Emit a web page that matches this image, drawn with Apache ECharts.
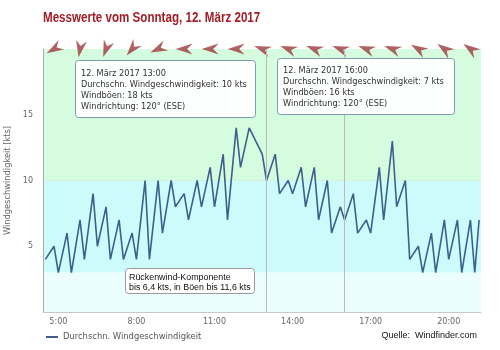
<!DOCTYPE html>
<html>
<head>
<meta charset="utf-8">
<script src="https://cdn.jsdelivr.net/npm/echarts@6/dist/echarts.min.js"></script>
<style>
  html, body { margin: 0; padding: 0; background: #fff; }
  #chart { width: 500px; height: 350px; }
</style>
</head>
<body>
<div id="chart"></div>
<script>
// Measured average wind speed (kts), local time
const times = [
  '4:30','4:50','5:00','5:20','5:30','5:50','6:00','6:20','6:30','6:50',
  '7:00','7:20','7:30','7:50','8:00','8:20','8:30','8:50','9:00','9:20',
  '9:30','9:50','10:00','10:20','10:30','10:50','11:00','11:20','11:30','11:50',
  '12:00','12:20','12:50','13:00','13:20','13:30','13:50','14:00','14:20','14:30',
  '14:50','15:00','15:20','15:30','15:50','16:00','16:20','16:30','16:50','17:00',
  '17:20','17:30','17:50','18:00','18:20','18:30','18:50','19:00','19:20','19:30',
  '19:50','20:00','20:20','20:30','20:50','21:00','21:10'
];
const speeds = [
  4, 5, 3, 6, 3, 7, 4, 9, 5, 8,
  4, 7, 4, 6, 4, 10, 4, 10, 6, 10,
  8, 9, 7, 10, 8, 11, 8, 12, 7, 14,
  11, 14, 12, 10, 12, 9, 10, 9, 11, 8,
  11, 7, 10, 6, 8, 7, 9, 6, 7, 6,
  11, 7, 13, 8, 10, 4, 5, 3, 6, 3,
  7, 4, 7, 3, 7, 3, 7
];

// Hourly wind direction (degrees the wind comes from)
const arrowTimes = ['4:50','5:50','6:50','7:50','8:50','9:50','10:50','11:50','12:50',
  '13:50','14:50','15:50','16:50','17:50','18:50','19:50','20:50'];
const arrowDirections = [60, 10, 20, 40, 65, 90, 90, 90, 110, 110, 110, 110, 110, 110, 120, 125, 125];

// Pinned readings
const pinnedTimes = ['13:00', '16:00'];
const pinnedGusts = [18, 16];
const pinnedDirections = [120, 120];

// Axis ticks
const xTickHours = [5, 8, 11, 14, 17, 20];
const yTicks = [5, 10, 15];

// Background zones (kts)
const zoneEdges = [0, 3, 10, 20];
const zoneColors = ['#ecfdfd', '#cdfbfb', '#d6fce0'];

const seriesName = 'Durchschn. Windgeschwindigkeit';
const dateText = '12. März 2017';

function toHours(t) {
  const p = t.split(':');
  return Number(p[0]) + Number(p[1]) / 60;
}
function compass(deg) {
  const names = ['N','NNE','NE','ENE','E','ESE','SE','SSE','S','SSW','SW','WSW','W','WNW','NW','NNW'];
  return names[Math.round(deg / 22.5) % 16];
}

const lineData = times.map((t, i) => [toHours(t), speeds[i]]);
const arrowData = arrowTimes.map((t, i) => ({
  value: [toHours(t), 20],
  // arrow drawn pointing up; turn it to where the wind blows to
  symbolRotate: -(arrowDirections[i] + 180)
}));

function pinnedText(i) {
  const t = pinnedTimes[i];
  const v = speeds[times.indexOf(t)];
  return dateText + ' ' + t + '\n' +
    seriesName + ': ' + v + ' kts\n' +
    'Windböen: ' + pinnedGusts[i] + ' kts\n' +
    'Windrichtung: ' + pinnedDirections[i] + '° (' + compass(pinnedDirections[i]) + ')';
}

const chart = echarts.init(document.getElementById('chart'));
const font = 'DejaVu Sans';
const boxStroke = '#7e9ab0';

chart.setOption({
  animation: false,
  grid: { left: 43, right: 19, top: 49, bottom: 38, outerBoundsMode: 'none' },
  legend: {
    data: [seriesName],
    left: 45, bottom: 9, padding: 0,
    itemWidth: 12, itemHeight: 2,
    textStyle: { fontFamily: font, fontSize: 8.4, color: '#555' }
  },
  xAxis: {
    type: 'value',
    min: 4.41, max: 21.24,
    z: 1,
    axisLine: { show: true, lineStyle: { color: '#c8c8c8' } },
    axisTick: { show: false },
    splitLine: { show: false },
    axisLabel: {
      customValues: xTickHours,
      formatter: v => Math.round(v) + ':00',
      fontFamily: font, fontSize: 8, color: '#666', margin: 6
    }
  },
  yAxis: {
    type: 'value',
    min: 0, max: 20, interval: 5,
    z: 1,
    name: 'Windgeschwindigkeit [kts]',
    nameLocation: 'middle', nameGap: 24,
    nameTextStyle: { fontFamily: font, fontSize: 8.3, color: '#666' },
    axisLine: { show: true, lineStyle: { color: '#aaa' } },
    axisTick: { show: false },
    splitLine: { lineStyle: { color: '#c8d0d0' } },
    axisLabel: {
      formatter: v => (yTicks.indexOf(v) >= 0 ? String(v) : ''),
      fontFamily: font, fontSize: 8, color: '#666', margin: 10
    }
  },
  series: [
    {
      type: 'line', name: 'zones', data: [], z: 0, silent: true,
      markArea: {
        silent: true,
        data: zoneColors.map((c, i) => [
          { yAxis: zoneEdges[i], itemStyle: { color: c } },
          { yAxis: zoneEdges[i + 1] }
        ])
      }
    },
    {
      type: 'line', name: seriesName, data: lineData, z: 2,
      symbol: 'none',
      lineStyle: { color: '#3e5f8c', width: 1.6 },
      itemStyle: { color: '#3e5f8c' },
      markLine: {
        silent: true, symbol: 'none', label: { show: false },
        lineStyle: { color: '#bbb', type: 'solid', width: 1 },
        data: pinnedTimes.map(t => ({ xAxis: toHours(t) }))
      }
    },
    {
      type: 'scatter', name: 'Windrichtung', data: arrowData, z: 4,
      clip: false, silent: true,
      symbol: 'path://M5.5,0 L11,17 L5.5,11.5 L0,17 Z',
      symbolSize: [11, 17],
      itemStyle: { color: '#9e3a3c' }
    }
  ],
  graphic: [
    // title in a condensed bold face
    {
      type: 'text', x: 43, y: 10, scaleX: 0.8, z: 10,
      style: { text: 'Messwerte vom Sonntag, 12. März 2017', fontFamily: 'Liberation Sans',
               fontWeight: 'bold', fontSize: 14.5, fill: '#a31d26' }
    },
    {
      type: 'rect', z: 10,
      shape: { x: 75.5, y: 60.5, width: 180, height: 57, r: 3 },
      style: { fill: 'rgba(255,255,255,0.95)', stroke: boxStroke, lineWidth: 1 }
    },
    {
      type: 'text', x: 81, y: 68, z: 11,
      style: { text: pinnedText(0), fontFamily: font, fontSize: 8.2, lineHeight: 11, fill: '#333' }
    },
    {
      type: 'rect', z: 10,
      shape: { x: 277.5, y: 58.5, width: 177, height: 56, r: 3 },
      style: { fill: 'rgba(255,255,255,0.95)', stroke: boxStroke, lineWidth: 1 }
    },
    {
      type: 'text', x: 283, y: 65, z: 11,
      style: { text: pinnedText(1), fontFamily: font, fontSize: 8.2, lineHeight: 11, fill: '#333' }
    },
    {
      type: 'rect', z: 10,
      shape: { x: 125.5, y: 268.5, width: 129, height: 25, r: 3 },
      style: { fill: '#fff', stroke: '#999', lineWidth: 1 }
    },
    {
      type: 'text', x: 129, y: 273, z: 11,
      style: { text: 'Rückenwind-Komponente\nbis 6,4 kts, in Böen bis 11,6 kts',
               fontFamily: 'Liberation Sans', fontSize: 8.9, lineHeight: 10, fill: '#111' }
    },
    {
      type: 'text', x: 477, y: 331, z: 10,
      style: { text: 'Quelle:  Windfinder.com', fontFamily: 'Liberation Sans', fontSize: 9,
               fill: '#111', align: 'right' }
    }
  ]
});
</script>
</body>
</html>
